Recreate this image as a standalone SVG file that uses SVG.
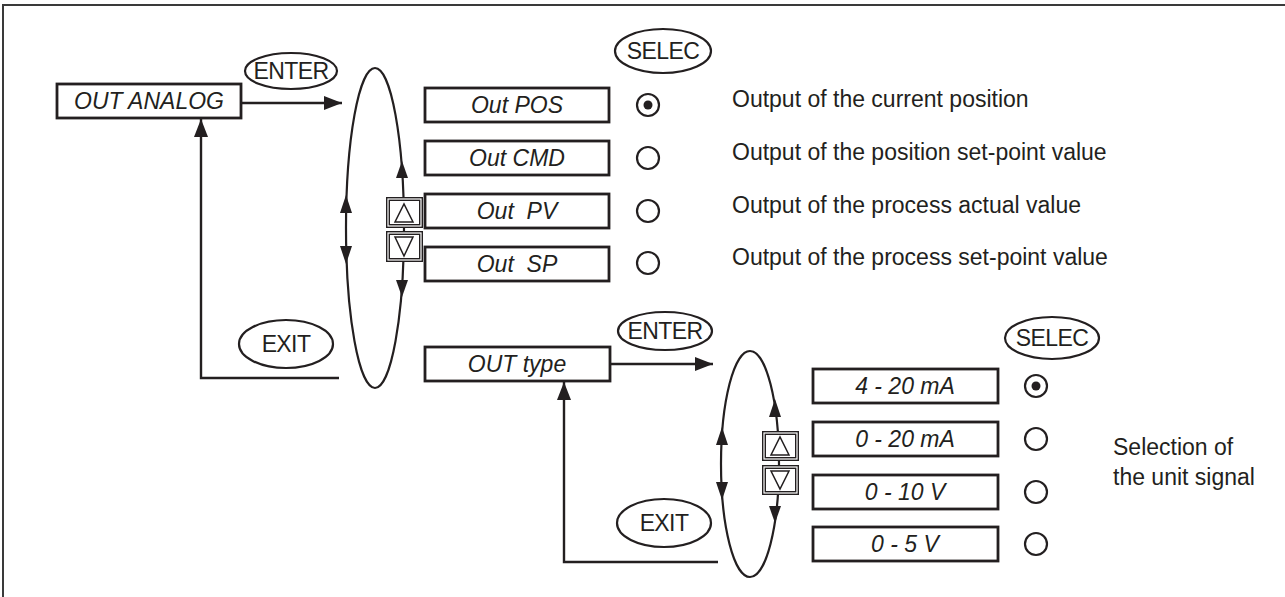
<svg xmlns="http://www.w3.org/2000/svg" width="1285" height="597" viewBox="0 0 1285 597">
<defs>
<style>
.box{fill:#fff;stroke:#231f20;stroke-width:2.8}
.btn{fill:#fff;stroke:#231f20;stroke-width:2.2}
.ln{fill:none;stroke:#231f20;stroke-width:2.4}
.loop{fill:none;stroke:#231f20;stroke-width:2.2}
.ah{fill:#231f20}
.radio{fill:#fff;stroke:#231f20;stroke-width:2.2}
.dot{fill:#231f20}
.kb{fill:#fff;stroke:#231f20;stroke-width:4}
.kbi{fill:none;stroke:#fff;stroke-width:1.2}
.tri{fill:#fff;stroke:#231f20;stroke-width:1.5}
text{font-family:"Liberation Sans",Arial,Helvetica,sans-serif;fill:#231f20}
.it{font-size:23px;font-style:italic;text-anchor:middle;white-space:pre}
.bt{font-size:23px;text-anchor:middle;letter-spacing:-0.6px}
.ds{font-size:23px}
</style>
<marker id="arr" viewBox="0 0 18 14" refX="18" refY="7" markerWidth="18" markerHeight="14" markerUnits="userSpaceOnUse" orient="auto">
<path d="M0,0 L18,7 L0,14 Z" fill="#231f20"/>
</marker>
</defs>
<rect width="1285" height="597" fill="#fff"/>
<path d="M3,597 V5 H1285" fill="none" stroke="#3a3a3a" stroke-width="2"/>

<g id="connectors">
<line class="ln" x1="241" y1="103" x2="342" y2="103" marker-end="url(#arr)"/>
<path class="ln" d="M339,378 H201 V119" marker-end="url(#arr)"/>
<ellipse class="loop" cx="375" cy="228" rx="29" ry="160"/>
<polygon class="ah" points="402,161 396,178 408,178"/>
<polygon class="ah" points="402,297 396,280 408,280"/>
<polygon class="ah" points="346,195 340,213 352,213"/>
<polygon class="ah" points="346,264 340,246 352,246"/>

<line class="ln" x1="610" y1="364" x2="713" y2="364" marker-end="url(#arr)"/>
<path class="ln" d="M718,562 H564 V382" marker-end="url(#arr)"/>
<ellipse class="loop" cx="750" cy="464" rx="29" ry="113"/>
<polygon class="ah" points="775,399 769,417 781,417"/>
<polygon class="ah" points="775,523 769,506 781,506"/>
<polygon class="ah" points="722,427 716,445 728,445"/>
<polygon class="ah" points="722,500 716,482 728,482"/>
</g>

<g id="frame-out-analog">
<rect class="box" x="57" y="84" width="184" height="34"/>
<text class="it" x="149" y="109">OUT ANALOG</text>
</g>
<g id="btn-enter-1">
<ellipse class="btn" cx="291" cy="71" rx="46" ry="18"/>
<text class="bt" x="291" y="79">ENTER</text>
</g>
<g id="btn-exit-1">
<ellipse class="btn" cx="286" cy="344" rx="47" ry="24"/>
<text class="bt" x="286" y="352">EXIT</text>
</g>
<g id="keys-1">
<rect class="kb" x="388" y="199" width="33" height="27"/>
<rect class="kbi" x="388" y="199" width="33" height="27"/>
<polygon class="tri" points="395,222 413,222 404,204"/>
<rect class="kb" x="388" y="233" width="33" height="27"/>
<rect class="kbi" x="388" y="233" width="33" height="27"/>
<polygon class="tri" points="395,237 413,237 404,256"/>
</g>
<g id="btn-selec-1">
<ellipse class="btn" cx="663" cy="51" rx="48" ry="22"/>
<text class="bt" x="663" y="59">SELEC</text>
</g>

<g id="out-pos">
<rect class="box" x="425" y="88" width="184" height="34"/>
<text class="it" x="517" y="113">Out POS</text>
<circle class="radio" cx="648" cy="105" r="11"/>
<circle class="dot" cx="648" cy="105" r="4.5"/>
<text class="ds" x="732" y="107">Output of the current position</text>
</g>
<g id="out-cmd">
<rect class="box" x="425" y="141" width="184" height="34"/>
<text class="it" x="517" y="166">Out CMD</text>
<circle class="radio" cx="648" cy="158" r="11"/>
<text class="ds" x="732" y="160">Output of the position set-point value</text>
</g>
<g id="out-pv">
<rect class="box" x="425" y="194" width="184" height="34"/>
<text class="it" x="517" y="219">Out  PV</text>
<circle class="radio" cx="648" cy="211" r="11"/>
<text class="ds" x="732" y="213">Output of the process actual value</text>
</g>
<g id="out-sp">
<rect class="box" x="425" y="247" width="184" height="34"/>
<text class="it" x="517" y="272">Out  SP</text>
<circle class="radio" cx="648" cy="263" r="11"/>
<text class="ds" x="732" y="265">Output of the process set-point value</text>
</g>

<g id="out-type">
<rect class="box" x="425" y="347" width="185" height="34"/>
<text class="it" x="517" y="372">OUT type</text>
</g>
<g id="btn-enter-2">
<ellipse class="btn" cx="665" cy="331" rx="47" ry="19"/>
<text class="bt" x="665" y="339">ENTER</text>
</g>
<g id="btn-exit-2">
<ellipse class="btn" cx="664" cy="523" rx="47" ry="24"/>
<text class="bt" x="664" y="531">EXIT</text>
</g>
<g id="keys-2">
<rect class="kb" x="764" y="433" width="33" height="26"/>
<rect class="kbi" x="764" y="433" width="33" height="26"/>
<polygon class="tri" points="771,455 789,455 780,437"/>
<rect class="kb" x="764" y="467" width="33" height="26"/>
<rect class="kbi" x="764" y="467" width="33" height="26"/>
<polygon class="tri" points="771,471 789,471 780,489"/>
</g>
<g id="btn-selec-2">
<ellipse class="btn" cx="1052" cy="338" rx="47" ry="21"/>
<text class="bt" x="1052" y="346">SELEC</text>
</g>

<g id="sig-4-20">
<rect class="box" x="813" y="369" width="185" height="34"/>
<text class="it" x="905" y="394">4 - 20 mA</text>
<circle class="radio" cx="1036" cy="386" r="11"/>
<circle class="dot" cx="1036" cy="386" r="4.5"/>
</g>
<g id="sig-0-20">
<rect class="box" x="813" y="422" width="185" height="34"/>
<text class="it" x="905" y="447">0 - 20 mA</text>
<circle class="radio" cx="1036" cy="439" r="11"/>
</g>
<g id="sig-0-10">
<rect class="box" x="813" y="475" width="185" height="34"/>
<text class="it" x="905" y="500">0 - 10 V</text>
<circle class="radio" cx="1036" cy="492" r="11"/>
</g>
<g id="sig-0-5">
<rect class="box" x="813" y="527" width="185" height="34"/>
<text class="it" x="905" y="552">0 - 5 V</text>
<circle class="radio" cx="1036" cy="544" r="11"/>
</g>
<g id="note-unit">
<text class="ds" x="1113" y="455">Selection of</text>
<text class="ds" x="1113" y="485">the unit signal</text>
</g>
</svg>
